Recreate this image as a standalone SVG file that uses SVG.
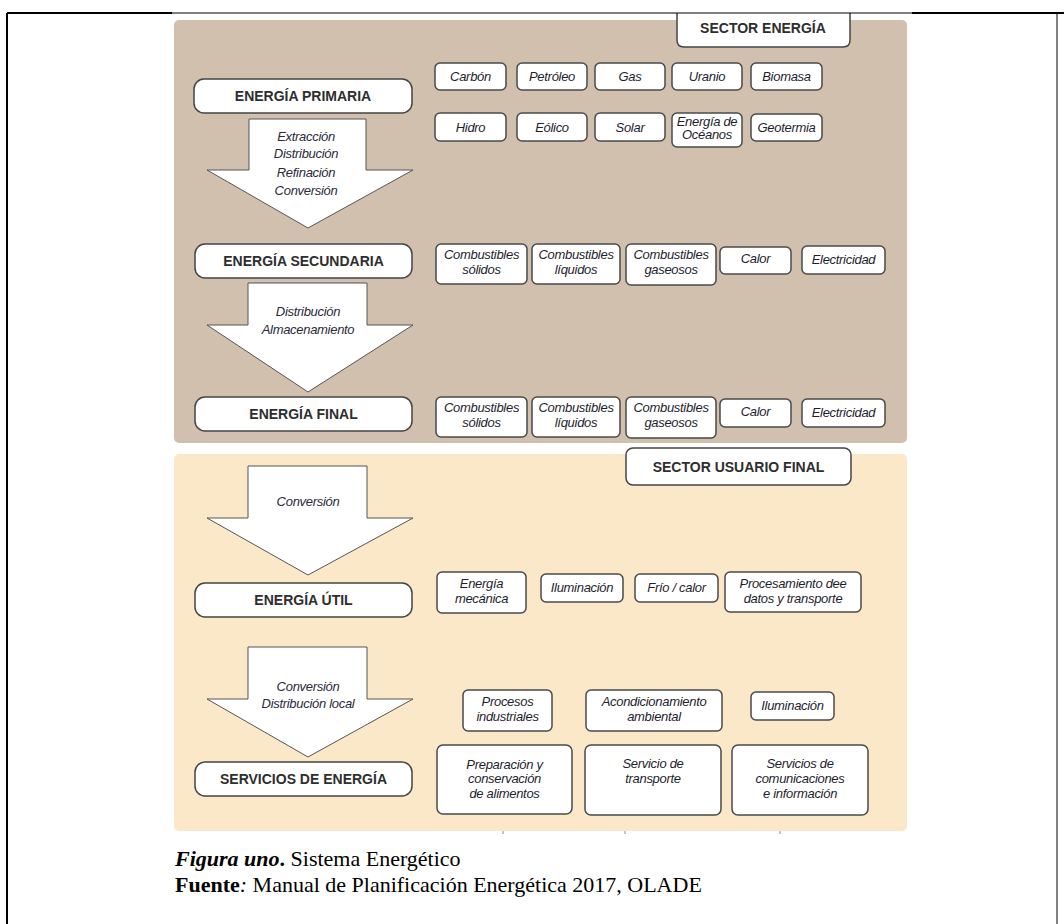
<svg xmlns="http://www.w3.org/2000/svg" width="1064" height="924" viewBox="0 0 1064 924">
<style>
.panel1{fill:#d2c0ae}
.panel2{fill:#fae8c8}
.tb{fill:#fff;stroke:#444;stroke-width:1.5}
.bx{fill:#fff;stroke:#4a4a4a;stroke-width:1.5}
.arr{fill:#fff;stroke:#555;stroke-width:1}
.tt{font-family:"Liberation Sans",Arial,sans-serif;font-weight:bold;font-size:14px;fill:#2e2e2e;text-anchor:middle}
.it{font-family:"Liberation Sans",Arial,sans-serif;font-style:italic;font-size:13px;fill:#1e1e2e;text-anchor:middle;letter-spacing:-0.3px}
.al{font-family:"Liberation Sans",Arial,sans-serif;font-style:italic;font-size:13px;fill:#2a2a3a;text-anchor:middle;letter-spacing:-0.3px}
.cap{font-family:"Liberation Serif","Times New Roman",serif;font-size:22px;fill:#000}
</style>
<rect width="1064" height="924" fill="#fff"/>
<g id="frame">
<line x1="7" y1="13" x2="7" y2="924" stroke="#000" stroke-width="2"/>
<line x1="1057" y1="13" x2="1057" y2="924" stroke="#000" stroke-width="1"/>
</g>
<g id="sector-energia-panel">
<rect class="panel1" x="174" y="20" width="733" height="423" rx="5"/>
</g>
<g id="sector-usuario-panel">
<rect class="panel2" x="174" y="454" width="733" height="377" rx="5"/>
<line x1="503" y1="831" x2="503" y2="834" stroke="#7a8ab0" stroke-width="1"/>
<line x1="625" y1="831" x2="625" y2="834" stroke="#7a8ab0" stroke-width="1"/>
<line x1="780" y1="831" x2="780" y2="834" stroke="#7a8ab0" stroke-width="1"/>
</g>
<g id="connectors">
<g id="arrow-primaria-secundaria">
<path class="arr" d="M249,119 H366 V170 H413 L308,228 L207,170 H249 Z"/>
<text class="al" x="306" y="141">Extracción</text>
<text class="al" x="306" y="158">Distribución</text>
<text class="al" x="306" y="177">Refinación</text>
<text class="al" x="306" y="195">Conversión</text>
</g>
<g id="arrow-secundaria-final">
<path class="arr" d="M248,283 H367 V325 H413 L308,392 L207,325 H248 Z"/>
<text class="al" x="308" y="316">Distribución</text>
<text class="al" x="308" y="334">Almacenamiento</text>
</g>
<g id="arrow-final-util">
<path class="arr" d="M248,466 H367 V518 H413 L308,575 L207,518 H248 Z"/>
<text class="al" x="308" y="506">Conversión</text>
</g>
<g id="arrow-util-servicios">
<path class="arr" d="M248,647 H367 V699 H413 L308,757 L207,699 H248 Z"/>
<text class="al" x="308" y="691">Conversión</text>
<text class="al" x="308" y="708">Distribución local</text>
</g>
</g>
<g id="sector-energia">
<path class="tb" d="M677,13 V40 Q677,47 684,47 H843 Q850,47 850,40 V13"/>
<text class="tt" x="763" y="33">SECTOR ENERGÍA</text>
</g>
<g id="frame-top">
<line x1="7" y1="13" x2="172" y2="13" stroke="#000" stroke-width="2"/>
<line x1="172" y1="13" x2="912" y2="13" stroke="#000" stroke-width="1"/>
<line x1="912" y1="13" x2="1064" y2="13" stroke="#000" stroke-width="2"/>
</g>
<g id="energia-primaria">
<rect class="tb" x="194" y="79" width="218" height="34" rx="10"/>
<text class="tt" x="303" y="101">ENERGÍA PRIMARIA</text>
</g>
<g id="carbon"><rect class="bx" x="435" y="63" width="71" height="27" rx="5"/><text class="it" x="470.5" y="81">Carbón</text></g>
<g id="petroleo"><rect class="bx" x="517" y="63" width="70" height="27" rx="5"/><text class="it" x="552" y="81">Petróleo</text></g>
<g id="gas"><rect class="bx" x="595" y="63" width="70" height="27" rx="5"/><text class="it" x="630" y="81">Gas</text></g>
<g id="uranio"><rect class="bx" x="672" y="63" width="70" height="27" rx="5"/><text class="it" x="707" y="81">Uranio</text></g>
<g id="biomasa"><rect class="bx" x="751" y="63" width="71" height="27" rx="5"/><text class="it" x="786.5" y="81">Biomasa</text></g>
<g id="hidro"><rect class="bx" x="435" y="113" width="71" height="28" rx="5"/><text class="it" x="470.5" y="132">Hidro</text></g>
<g id="eolico"><rect class="bx" x="517" y="113" width="70" height="28" rx="5"/><text class="it" x="552" y="132">Eólico</text></g>
<g id="solar"><rect class="bx" x="595" y="113" width="70" height="28" rx="5"/><text class="it" x="630" y="132">Solar</text></g>
<g id="oceanos"><rect class="bx" x="672" y="113" width="70" height="34" rx="5"/><text class="it" x="707" y="126">Energía de</text><text class="it" x="707" y="139">Océanos</text></g>
<g id="geotermia"><rect class="bx" x="751" y="114" width="71" height="27" rx="5"/><text class="it" x="786.5" y="132">Geotermia</text></g>
<g id="energia-secundaria">
<rect class="tb" x="195" y="244" width="217" height="34" rx="10"/>
<text class="tt" x="303.5" y="266">ENERGÍA SECUNDARIA</text>
</g>
<g id="sec-solidos"><rect class="bx" x="436" y="244" width="91" height="40" rx="5"/><text class="it" x="481.5" y="259">Combustibles</text><text class="it" x="481.5" y="274">sólidos</text></g>
<g id="sec-liquidos"><rect class="bx" x="532" y="244" width="88" height="40" rx="5"/><text class="it" x="576" y="259">Combustibles</text><text class="it" x="576" y="274">líquidos</text></g>
<g id="sec-gaseosos"><rect class="bx" x="626" y="244" width="90" height="41" rx="5"/><text class="it" x="671" y="259">Combustibles</text><text class="it" x="671" y="274">gaseosos</text></g>
<g id="sec-calor"><rect class="bx" x="720" y="247" width="71" height="27" rx="5"/><text class="it" x="755.5" y="263">Calor</text></g>
<g id="sec-electricidad"><rect class="bx" x="802" y="246" width="83" height="28" rx="5"/><text class="it" x="843.5" y="264">Electricidad</text></g>
<g id="energia-final">
<rect class="tb" x="195" y="397" width="217" height="34" rx="10"/>
<text class="tt" x="303.5" y="419">ENERGÍA FINAL</text>
</g>
<g id="fin-solidos"><rect class="bx" x="436" y="397" width="91" height="40" rx="5"/><text class="it" x="481.5" y="412">Combustibles</text><text class="it" x="481.5" y="427">sólidos</text></g>
<g id="fin-liquidos"><rect class="bx" x="532" y="397" width="88" height="40" rx="5"/><text class="it" x="576" y="412">Combustibles</text><text class="it" x="576" y="427">líquidos</text></g>
<g id="fin-gaseosos"><rect class="bx" x="626" y="397" width="90" height="41" rx="5"/><text class="it" x="671" y="412">Combustibles</text><text class="it" x="671" y="427">gaseosos</text></g>
<g id="fin-calor"><rect class="bx" x="720" y="399" width="71" height="28" rx="5"/><text class="it" x="755.5" y="416">Calor</text></g>
<g id="fin-electricidad"><rect class="bx" x="802" y="399" width="83" height="28" rx="5"/><text class="it" x="843.5" y="417">Electricidad</text></g>
<g id="sector-usuario-final">
<rect class="tb" x="626" y="448" width="225" height="37" rx="7"/>
<text class="tt" x="738.5" y="472">SECTOR USUARIO FINAL</text>
</g>
<g id="energia-util">
<rect class="tb" x="195" y="583" width="217" height="34" rx="10"/>
<text class="tt" x="303.5" y="605">ENERGÍA ÚTIL</text>
</g>
<g id="util-mecanica"><rect class="bx" x="437" y="572" width="89" height="41" rx="5"/><text class="it" x="481.5" y="588">Energía</text><text class="it" x="481.5" y="603">mecánica</text></g>
<g id="util-iluminacion"><rect class="bx" x="541" y="574" width="82" height="28" rx="5"/><text class="it" x="582" y="592">Iluminación</text></g>
<g id="util-frio"><rect class="bx" x="635" y="574" width="83" height="28" rx="5"/><text class="it" x="676.5" y="592">Frío / calor</text></g>
<g id="util-procesamiento"><rect class="bx" x="725" y="572" width="136" height="40" rx="5"/><text class="it" x="793" y="588">Procesamiento dee</text><text class="it" x="793" y="603">datos y transporte</text></g>
<g id="servicios-energia">
<rect class="tb" x="195" y="762" width="217" height="34" rx="10"/>
<text class="tt" x="303.5" y="784">SERVICIOS DE ENERGÍA</text>
</g>
<g id="serv-procesos"><rect class="bx" x="463" y="690" width="89" height="41" rx="5"/><text class="it" x="507.5" y="706">Procesos</text><text class="it" x="507.5" y="721">industriales</text></g>
<g id="serv-acondicionamiento"><rect class="bx" x="586" y="690" width="136" height="41" rx="5"/><text class="it" x="654" y="706">Acondicionamiento</text><text class="it" x="654" y="721">ambiental</text></g>
<g id="serv-iluminacion"><rect class="bx" x="751" y="692" width="83" height="28" rx="5"/><text class="it" x="792.5" y="710">Iluminación</text></g>
<g id="serv-alimentos"><rect class="bx" x="437" y="745" width="135" height="69" rx="6"/><text class="it" x="504.5" y="769">Preparación y</text><text class="it" x="504.5" y="783">conservación</text><text class="it" x="504.5" y="798">de alimentos</text></g>
<g id="serv-transporte"><rect class="bx" x="585" y="745" width="136" height="70" rx="6"/><text class="it" x="653" y="768">Servicio de</text><text class="it" x="653" y="783">transporte</text></g>
<g id="serv-comunicaciones"><rect class="bx" x="732" y="745" width="136" height="70" rx="6"/><text class="it" x="800" y="768">Servicios de</text><text class="it" x="800" y="783">comunicaciones</text><text class="it" x="800" y="798">e información</text></g>
<g id="caption">
<text class="cap" x="175" y="866"><tspan font-weight="bold" font-style="italic">Figura uno</tspan><tspan font-weight="bold">.</tspan> Sistema Energético</text>
<text class="cap" x="175" y="892"><tspan font-weight="bold">Fuente</tspan><tspan font-style="italic">:</tspan> Manual de Planificación Energética 2017, OLADE</text>
</g>
</svg>
